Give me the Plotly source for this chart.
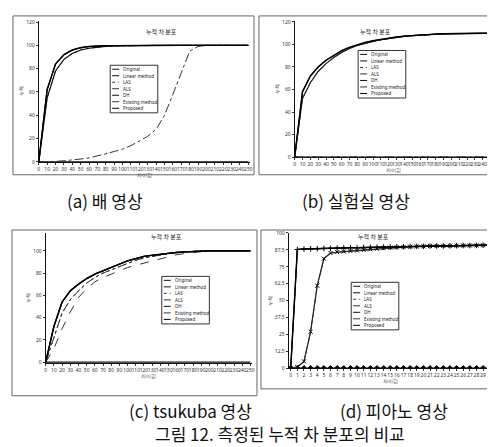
import plotly.graph_objects as go

W, H = 495, 447

# ---------------- data ----------------
series_names = ["Original", "Linear method", "LAS", "ALS", "DH", "Existing method", "Proposed"]

a_x = list(range(0, 251, 10))
a_zero = [0] * 26
a_fast1 = [0, 62, 84, 92, 96, 98, 99, 99.5, 99.7, 99.8, 99.9, 100, 100, 100, 100, 100, 100, 100, 100, 100, 100, 100, 100, 100, 100, 100]
a_fast2 = [0, 55, 78, 88, 93, 96, 97.5, 98.5, 99.2, 99.6, 99.8, 99.9, 100, 100, 100, 100, 100, 100, 100, 100, 100, 100, 100, 100, 100, 100]
a_slow = [0, 0, 0.5, 1, 1.5, 2.5, 3.5, 5, 7, 9, 11, 14, 18, 22, 28, 40, 58, 77, 95, 99, 100, 100, 100, 100, 100, 100]

b_x = list(range(0, 251, 10))
b_zero = [0] * 26
b_main = [0, 58, 72, 80, 86, 90.5, 94.5, 97.5, 100, 101.8, 103.3, 104.6, 105.7, 106.6, 107.4, 108, 108.5, 108.9, 109.2, 109.5, 109.7, 109.8, 109.9, 110, 110, 110]
b_early = [0, 52, 66, 76, 83, 88.5, 93, 96.5, 99.2, 101.2, 102.8, 104.2, 105.4, 106.4, 107.2, 107.9, 108.4, 108.8, 109.1, 109.4, 109.6, 109.8, 109.9, 110, 110, 110]

c_x = list(range(0, 251, 10))
c_zero = [0] * 26
c_fast = [0, 32, 54, 64, 70, 75, 79, 82, 85, 88, 91, 93, 95, 96, 97, 98, 98.5, 99, 99.5, 100, 100, 100, 100, 100, 100, 100]
c_mid = [0, 22, 44, 56, 64, 71, 76, 80, 83, 86, 89, 91.5, 93.5, 95, 96.5, 97.5, 98.3, 99, 99.5, 100, 100, 100, 100, 100, 100, 100]
c_slow = [0, 12, 30, 45, 58, 66, 72, 76, 79, 82, 85, 87, 89, 91, 93, 95, 96.5, 97.5, 98.5, 99.5, 100, 100, 100, 100, 100, 100]

d_x = list(range(0, 31))
d_zero = [0] * 31
d_high = [0, 87.8, 88.1, 88.3, 88.4, 88.6, 88.6, 88.8, 88.9, 89.1, 89.1, 89.3, 89.4, 89.4, 89.6, 89.7, 89.8, 89.8, 90.0, 90.1, 90.1, 90.3, 90.4, 90.4, 90.5, 90.6, 90.7, 90.7, 90.8, 90.9, 91.0]
d_low = [0, 0.8, 5, 27, 61, 81, 85.2, 85.8, 86.3, 86.6, 87.0, 87.4, 87.9, 88.3, 88.8, 89.1, 89.4, 89.6, 89.8, 90.0, 90.1, 90.3, 90.4, 90.4, 90.5, 90.6, 90.7, 90.7, 90.8, 90.9, 91.0]

panel_title = "누적 차 분포"
x_title = "차이값"
y_title = "누적"

# ---------------- styles ----------------
styles = {
    "Original": dict(color="#111", width=1.2, dash="solid"),
    "Linear method": dict(color="#111", width=1.2, dash="solid"),
    "LAS": dict(color="#333", width=1, dash="dot"),
    "ALS": dict(color="#333", width=1, dash="dash"),
    "DH": dict(color="#111", width=1.2, dash="solid"),
    "Existing method": dict(color="#333", width=1, dash="dashdot"),
    "Proposed": dict(color="#000", width=1.4, dash="solid"),
}

def px(x):
    return x / W

def py(y):
    return 1 - y / H

fig = go.Figure()

panels = [
    dict(k="", x=a_x, data=[a_zero, a_fast1, a_fast2, a_fast1, a_fast2, a_slow, a_fast1],
         box=(30, 10, 243, 153), yr=[0, 121], ydt=20, xdt=10, xr=[0, 252], markers=False,
         frame=(4, 5, 247, 166), leg=(102, 55)),
    dict(k="2", x=b_x, data=[b_zero, b_main, b_zero, b_zero, b_early, b_early, b_main],
         box=(288, 10, 487, 148), yr=[0, 121], ydt=20, xdt=10, xr=[0, 252], markers=False,
         frame=(252, 5, 494, 166), leg=(352, 40)),
    dict(k="3", x=c_x, data=[c_zero, c_fast, c_mid, c_slow, c_fast, c_mid, c_fast],
         box=(37, 225, 245, 357), yr=[-1, 116], ydt=20, xdt=10, xr=[0, 252], markers=False,
         frame=(3, 222, 250, 390), leg=(154, 269)),
    dict(k="4", x=d_x, data=[d_zero, d_high, d_high, d_high, d_low, d_low, d_high],
         box=(282, 225, 488, 362), yr=[0, 100], ydt=12.5, xdt=1, xr=[-0.3, 30.5], markers=True,
         frame=(254, 222, 494, 383), leg=(345, 275)),
]

shapes = []
annotations = []

for p in panels:
    k = p["k"]
    xa = "x" + k
    ya = "y" + k
    x0, y0, x1, y1 = p["box"]
    for name, vals in zip(series_names, p["data"]):
        st = styles[name]
        mode = "lines"
        marker = None
        if p["markers"] and name in ("Original", "Proposed", "DH"):
            mode = "lines+markers"
            sym = {"Original": "diamond", "Proposed": "cross-thin", "DH": "x-thin"}[name]
            marker = dict(symbol=sym, size=4, color="#000", line=dict(width=1, color="#000"))
        fig.add_trace(go.Scatter(
            x=p["x"], y=vals, mode=mode, name=name, showlegend=False,
            line=dict(color=st["color"], width=st["width"], dash=st["dash"]),
            marker=marker, xaxis=xa, yaxis=ya,
        ))
    axis_common = dict(showline=True, linecolor="#111", linewidth=1, ticks="outside",
                       ticklen=2, tickwidth=1, tickcolor="#333", showgrid=False,
                       zeroline=False, tickfont=dict(size=5, color="#333", family="Noto Sans"),
                       tickangle=0)
    fig.update_layout(**{
        "xaxis" + k: dict(domain=[px(x0), px(x1)], anchor=ya, range=p["xr"], dtick=p["xdt"],
                          title=dict(text=x_title, font=dict(size=5, color="#333"), standoff=1),
                          **axis_common),
        "yaxis" + k: dict(domain=[py(y1), py(y0)], anchor=xa, range=p["yr"], dtick=p["ydt"],
                          title=dict(text=y_title, font=dict(size=5, color="#333"), standoff=2),
                          **axis_common),
    })
    fx0, fy0, fx1, fy1 = p["frame"]
    shapes.append(dict(type="rect", xref="paper", yref="paper", x0=px(fx0), x1=px(fx1),
                       y0=py(fy1), y1=py(fy0), line=dict(color="#666", width=1)))
    annotations.append(dict(text=panel_title, xref="paper", yref="paper",
                            x=px((x0 + x1) / 2), y=py(y0 + 4), showarrow=False,
                            font=dict(size=6, color="#222", family="Noto Sans CJK KR")))
    lx, ly = p["leg"]
    row = 6.6
    lw = 48
    shapes.append(dict(type="rect", xref="paper", yref="paper", x0=px(lx), x1=px(lx + lw),
                       y0=py(ly + row * 7 + 2), y1=py(ly), line=dict(color="#333", width=1),
                       fillcolor="white", layer="above"))
    for i, name in enumerate(series_names):
        st = styles[name]
        yy = ly + 4 + i * row
        shapes.append(dict(type="line", xref="paper", yref="paper", x0=px(lx + 2), x1=px(lx + 9),
                           y0=py(yy), y1=py(yy), layer="above",
                           line=dict(color=st["color"], width=1, dash=st["dash"])))
        annotations.append(dict(text=name, xref="paper", yref="paper", x=px(lx + 11), y=py(yy),
                                xanchor="left", yanchor="middle", showarrow=False,
                                font=dict(size=4.5, color="#222", family="Noto Sans")))

cap_font = dict(size=17, color="#111", family="Noto Sans CJK KR")
for txt, cx, cy in [("(a) 배 영상", 97, 192), ("(b) 실험실 영상", 350, 192),
                    ("(c) tsukuba 영상", 183, 405), ("(d) 피아노 영상", 388, 405),
                    ("그림 12. 측정된 누적 차 분포의 비교", 273, 428)]:
    annotations.append(dict(text=txt, xref="paper", yref="paper", x=px(cx), y=py(cy),
                            xanchor="center", yanchor="middle", showarrow=False, font=cap_font))

fig.update_layout(
    width=W, height=H, margin=dict(l=0, r=0, t=0, b=0),
    paper_bgcolor="white", plot_bgcolor="white",
    showlegend=False, shapes=shapes, annotations=annotations,
)

fig.write_html("out.html")
